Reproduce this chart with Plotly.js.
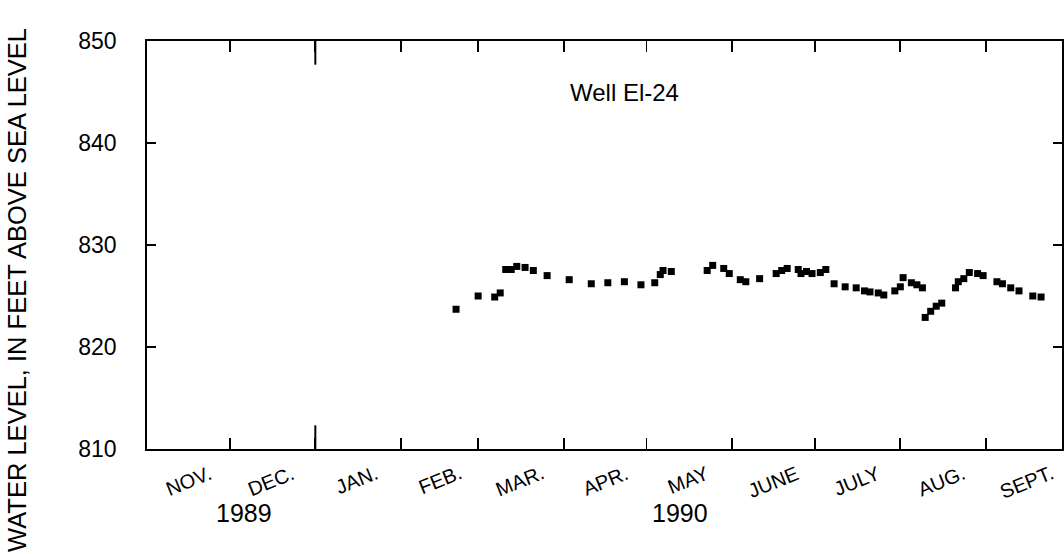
<!DOCTYPE html>
<html><head><meta charset="utf-8">
<script src="https://cdn.plot.ly/plotly-3.0.1.min.js"></script>
<style>html,body{margin:0;padding:0;background:#fff}</style>
</head><body>
<div id="chart" style="width:1064px;height:554px"></div>
<script>
const dates = ['1990-02-21','1990-03-01','1990-03-07','1990-03-09','1990-03-11','1990-03-13','1990-03-15','1990-03-18','1990-03-21','1990-03-26',
  '1990-04-03','1990-04-11','1990-04-17','1990-04-23','1990-04-29','1990-05-04','1990-05-06','1990-05-07','1990-05-10','1990-05-23',
  '1990-05-25','1990-05-29','1990-05-31','1990-06-04','1990-06-06','1990-06-11','1990-06-17','1990-06-19','1990-06-21','1990-06-25',
  '1990-06-26','1990-06-28','1990-06-30','1990-07-03','1990-07-05','1990-07-08','1990-07-12','1990-07-16','1990-07-19','1990-07-21',
  '1990-07-24','1990-07-26','1990-07-30','1990-08-01','1990-08-02','1990-08-05','1990-08-07','1990-08-09','1990-08-10','1990-08-12',
  '1990-08-14','1990-08-16','1990-08-21','1990-08-22','1990-08-24','1990-08-26','1990-08-29','1990-08-31','1990-09-05','1990-09-07',
  '1990-09-10','1990-09-13','1990-09-18','1990-09-21'];
const levels = [823.7,825.0,824.9,825.3,827.6,827.6,827.9,827.8,827.5,827.0,
  826.6,826.2,826.3,826.4,826.1,826.3,827.1,827.5,827.4,827.5,
  828.0,827.7,827.2,826.6,826.4,826.7,827.2,827.5,827.7,827.6,
  827.2,827.4,827.2,827.3,827.6,826.2,825.9,825.8,825.5,825.4,
  825.3,825.1,825.5,825.9,826.8,826.3,826.1,825.8,822.9,823.5,
  824.0,824.3,825.8,826.4,826.7,827.3,827.2,827.0,826.4,826.2,
  825.8,825.5,825.0,824.9];
const monthTicks = ['1989-12-01','1990-01-01','1990-02-01','1990-03-01','1990-04-01','1990-05-01','1990-06-01','1990-07-01','1990-08-01','1990-09-01'];
const monthLabels = ['NOV.','DEC.','JAN.','FEB.','MAR.','APR.','MAY','JUNE','JULY','AUG.','SEPT.'];
const monthMids = ['1989-11-16','1989-12-16','1990-01-16','1990-02-15','1990-03-16','1990-04-16','1990-05-16','1990-06-16','1990-07-16','1990-08-16','1990-09-16'];
const yearLabels = ['1989','1990'];
const yearPos = ['1989-12-06','1990-05-13'];
const yTicks = [810,820,830,840,850];
const yearBoundary = '1990-01-01';
const titleText = 'Well El-24';
const yTitle = 'WATER LEVEL, IN FEET ABOVE SEA LEVEL';

const FONT = 'Liberation Sans, Arial, Helvetica, sans-serif';
const annotations = [];
monthLabels.forEach((t,i)=>annotations.push({
  text:t, x:monthMids[i], xref:'x', y:0, yref:'paper', yanchor:'top', xanchor:'center',
  yshift:-10, textangle:-22, showarrow:false, font:{family:FONT,size:20,color:'#000'}
}));
yearLabels.forEach((t,i)=>annotations.push({
  text:t, x:yearPos[i], xref:'x', y:0, yref:'paper', yanchor:'middle', xanchor:'center',
  yshift:-64, showarrow:false, font:{family:FONT,size:25,color:'#000'}
}));
annotations.push({text:titleText, x:0.522, xref:'paper', y:0.875, yref:'paper', xanchor:'center', yanchor:'middle',
  showarrow:false, font:{family:FONT,size:24,color:'#000'}});
annotations.push({text:yTitle, x:0, xref:'paper', xshift:-130, y:0.39, yref:'paper', xanchor:'center', yanchor:'middle',
  textangle:-90, showarrow:false, font:{family:FONT,size:25.5,color:'#000'}});

const trace = {x:dates, y:levels, type:'scatter', mode:'markers',
  marker:{symbol:'square', size:7, color:'#000'}, hoverinfo:'skip'};

const layout = {
  width:1064, height:554, margin:{l:147,r:2,t:41,b:105},
  paper_bgcolor:'#fff', plot_bgcolor:'#fff', showlegend:false,
  xaxis:{type:'date', range:['1989-11-01','1990-09-28 14:00'], tickvals:monthTicks, showticklabels:false,
    ticks:'inside', ticklen:11, tickwidth:1.8, tickcolor:'#000', mirror:'allticks', showline:true,
    linecolor:'#000', linewidth:1.8, showgrid:false, zeroline:false},
  yaxis:{range:[810,850], tickvals:yTicks, ticks:'inside', ticklen:9, tickwidth:1.8, tickcolor:'#000',
    mirror:'allticks', showline:true, linecolor:'#000', linewidth:1.8, showgrid:false, zeroline:false,
    ticklabelstandoff:24, tickfont:{family:FONT,size:23,color:'#000'}},
  shapes:[
    {type:'line', xref:'x', yref:'paper', x0:yearBoundary, x1:yearBoundary, y0:0, y1:0.058, line:{color:'#000',width:2}},
    {type:'line', xref:'x', yref:'paper', x0:yearBoundary, x1:yearBoundary, y0:1, y1:0.942, line:{color:'#000',width:2}}
  ],
  annotations:annotations
};
Plotly.newPlot('chart',[trace],layout,{staticPlot:true,displayModeBar:false});
</script>
</body></html>
